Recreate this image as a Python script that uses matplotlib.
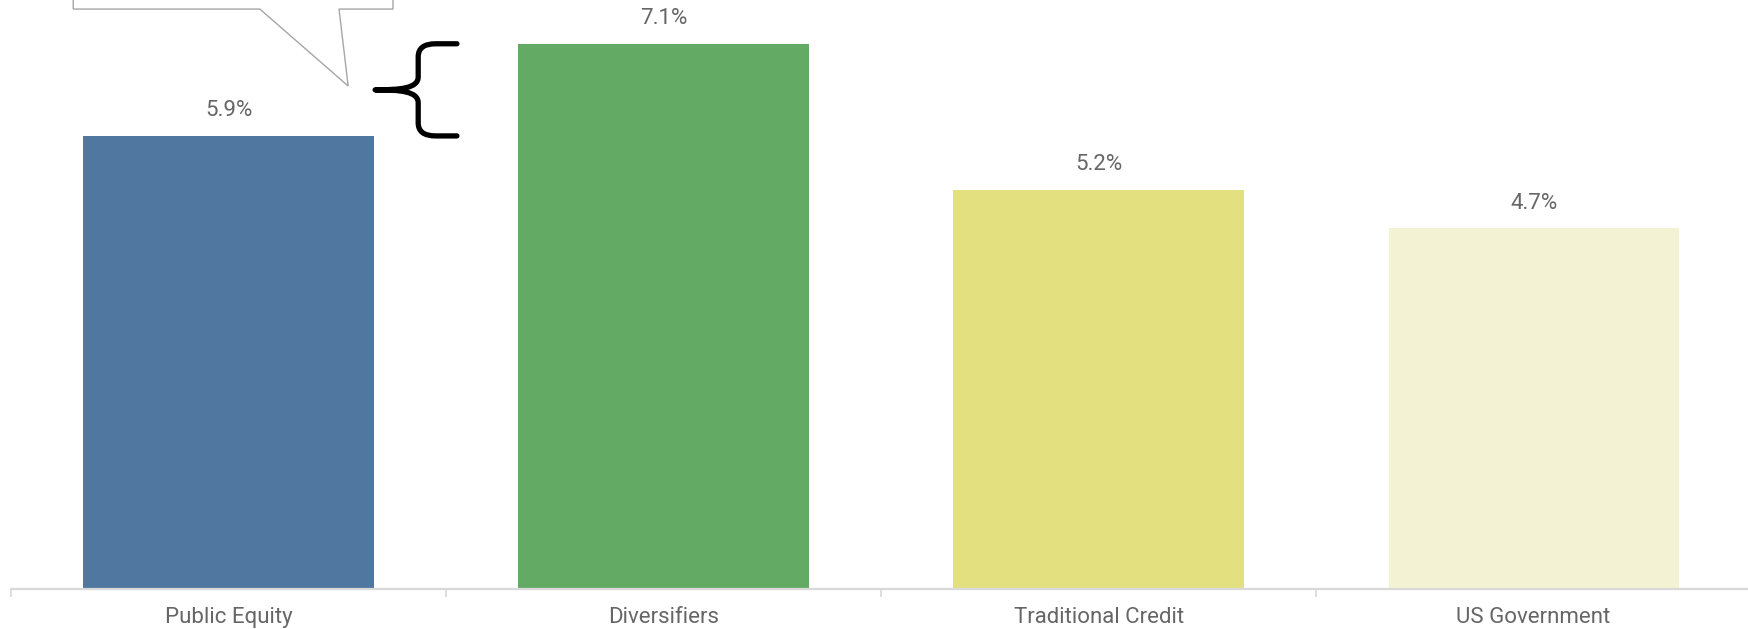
import matplotlib.pyplot as plt
from matplotlib.path import Path
from matplotlib.patches import PathPatch, Polygon

categories = ["Public Equity", "Diversifiers", "Traditional Credit", "US Government"]
values = [5.9, 7.1, 5.2, 4.7]
colors = ["#5077a0", "#63aa65", "#e2e07f", "#f3f3d4"]

plt.rcParams['font.family'] = ['Roboto', 'DejaVu Sans']
text_color = "#666666"

fig = plt.figure(figsize=(17.49, 6.29), dpi=100)
ax = fig.add_axes([0.0063, 0.0636, 0.9949, 0.9364])

x = range(len(categories))
bars = ax.bar(x, values, width=0.667, color=colors, zorder=2)

for xi, v in zip(x, values):
    ax.annotate(f"{v:.1f}%", (xi, v), xytext=(0, 14), textcoords="offset points",
                ha="center", va="baseline", fontsize=16, color=text_color)

ax.set_xlim(-0.5, len(categories) - 0.5)
ax.set_ylim(0, 7.67)

for s in ["top", "right", "left"]:
    ax.spines[s].set_visible(False)
ax.spines["bottom"].set_color("#d9d9d9")
ax.spines["bottom"].set_linewidth(1.6)
ax.set_yticks([])

ax.set_xticks(list(x))
ax.set_xticklabels(categories, fontsize=16, color=text_color)
ax.tick_params(axis="x", which="major", length=0, pad=13)
ax.set_xticks([i - 0.5 for i in range(len(categories) + 1)], minor=True)
ax.tick_params(axis="x", which="minor", length=6, width=1.2, color="#d9d9d9")

# speech-bubble callout pointing at the gap between the first two bars
bubble = Polygon([(-0.357, 9.0), (-0.357, 7.552), (0.072, 7.552), (0.275, values[0] + 0.65),
                  (0.254, 7.552), (0.378, 7.552), (0.378, 9.0)],
                 closed=True, facecolor="white", edgecolor="#a6a6a6", linewidth=1.0,
                 clip_on=True, zorder=3)
ax.add_patch(bubble)

# curly brace spanning the difference between the two bars
lo, hi = values[0], values[1]
mid = (lo + hi) / 2
xv, xe, xt = 0.436, 0.525, 0.337
rx, ry = 0.04, 0.17
verts = [
    (xe, hi), (xv + rx, hi), (xv, hi), (xv, hi - ry),
    (xv, mid + ry),
    (xv, mid + 0.02), (xv - rx, mid), (xt, mid),
    (xv - rx, mid), (xv, mid - 0.02), (xv, mid - ry),
    (xv, lo + ry),
    (xv, lo), (xv + rx, lo), (xe, lo),
]
codes = [Path.MOVETO, Path.LINETO, Path.CURVE3, Path.CURVE3,
         Path.LINETO,
         Path.CURVE4, Path.CURVE4, Path.CURVE4,
         Path.CURVE4, Path.CURVE4, Path.CURVE4,
         Path.LINETO,
         Path.CURVE3, Path.CURVE3, Path.LINETO]
ax.add_patch(PathPatch(Path(verts, codes), facecolor="none", edgecolor="black",
                       linewidth=3.8, capstyle="round", joinstyle="round", zorder=3))

fig.savefig("out.png", dpi=100)
